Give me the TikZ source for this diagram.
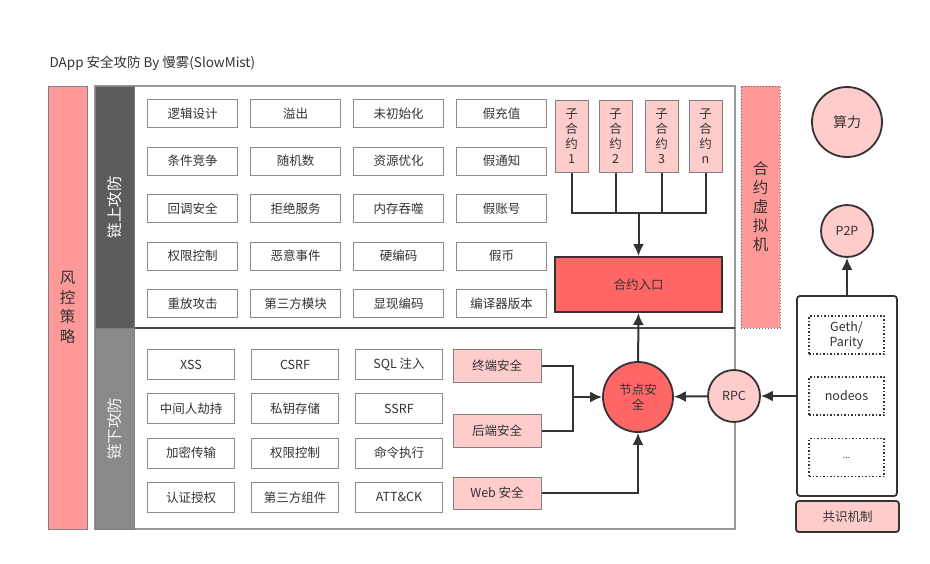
\documentclass[tikz,border=0pt]{standalone}
\usepackage{fontspec}
\setmainfont{Noto Sans CJK SC}
\usepackage{xcolor}
\usetikzlibrary{shapes,arrows.meta,positioning,backgrounds}
\definecolor{lightpink}{HTML}{FFCCCC}
\definecolor{salmon}{HTML}{FF9999}
\definecolor{hotred}{HTML}{FF6666}
\definecolor{darkpanel}{HTML}{5C5C5C}
\definecolor{greypanel}{HTML}{8A8A8A}
\definecolor{edgegrey}{HTML}{8C8C8C}
\definecolor{ink}{HTML}{333333}
\tikzstyle{atk} = [rectangle, draw=edgegrey, line width=1pt, fill=white, text=ink, minimum width=90pt, minimum height=28pt, inner sep=0pt, font=\fontsize{12.5}{14}\selectfont]
\tikzstyle{offatk} = [atk, minimum width=87pt, minimum height=30pt]
\tikzstyle{pinkbox} = [atk, draw=gray, fill=lightpink, minimum width=88pt, minimum height=33pt]
\tikzstyle{subc} = [rectangle, draw=gray, line width=1pt, fill=lightpink, text=ink, minimum width=33pt, minimum height=72pt, inner sep=0pt, align=center, font=\fontsize{12.5}{15}\selectfont]
\tikzstyle{band} = [rectangle, draw=gray, line width=1pt, inner sep=0pt, text=white, font=\fontsize{15.5}{17}\selectfont]
\tikzstyle{hub} = [circle, draw=ink, line width=1.8pt, fill=hotred, text=ink, inner sep=0pt, align=center, font=\fontsize{12.5}{15}\selectfont]
\tikzstyle{bubble} = [circle, draw=ink, line width=1.8pt, fill=lightpink, text=ink, inner sep=0pt, font=\fontsize{12.5}{15}\selectfont]
\tikzstyle{dotbox} = [rectangle, draw=ink, dotted, line width=1.5pt, text=ink, minimum width=75pt, minimum height=38pt, inner sep=0pt, align=center, font=\fontsize{12.5}{15}\selectfont]
\tikzstyle{tedge}  = [draw=ink, line width=2pt, -{Latex[length=12pt,width=11pt]}]
\tikzstyle{wire}  = [draw=ink, line width=2pt]

\begin{document}
\begin{tikzpicture}[x=1pt, y=-1pt]
\useasboundingbox (0,0) rectangle (930,563);

% title ==================================
\node[anchor=west, text=ink, font=\fontsize{13.5}{16}\selectfont] (title) at (46,63) {DApp 安全攻防 By 慢雾(SlowMist)};

% side bars ==============================
\node[band, fill=salmon, text=ink, minimum width=39pt, minimum height=443pt, align=center, font=\fontsize{15.5}{19.5}\selectfont] (risk) at (67.5,307.5) {风\\控\\策\\略};
\draw[gray!80, line width=1.5pt] (95,86) rectangle (735,529);
\draw[ink!90, line width=1.5pt] (95,328) -- (735,328);
\node[band, fill=darkpanel, rotate=90, minimum width=242pt, minimum height=39pt] (onchain) at (114.5,207) {链上攻防};
\node[band, fill=greypanel, text=white!92!gray, rotate=90, minimum width=201pt, minimum height=39pt] (offchain) at (114.5,428.5) {链下攻防};

% on-chain attacks =======================
\node[atk, anchor=north west] (logic) at (147,99) {逻辑设计};
\node[atk, right=12pt of logic] (overflow) {溢出};
\node[atk, right=12pt of overflow] (uninit) {未初始化};
\node[atk, right=12pt of uninit] (fakecharge) {假充值};
\node[atk, below=18.5pt of logic] (race) {条件竞争};
\node[atk, right=12pt of race] (rand) {随机数};
\node[atk, right=12pt of rand] (resopt) {资源优化};
\node[atk, right=12pt of resopt] (fakenotify) {假通知};
\node[atk, below=18.5pt of race] (callback) {回调安全};
\node[atk, right=12pt of callback] (dos) {拒绝服务};
\node[atk, right=12pt of dos] (memeat) {内存吞噬};
\node[atk, right=12pt of memeat] (fakeacct) {假账号};
\node[atk, below=18.5pt of callback] (perm) {权限控制};
\node[atk, right=12pt of perm] (evilevent) {恶意事件};
\node[atk, right=12pt of evilevent] (hardcode) {硬编码};
\node[atk, right=12pt of hardcode] (fakecoin) {假币};
\node[atk, below=18.5pt of perm] (replay) {重放攻击};
\node[atk, right=12pt of replay] (thirdmod) {第三方模块};
\node[atk, right=12pt of thirdmod] (explicit) {显现编码};
\node[atk, right=12pt of explicit] (compiler) {编译器版本};

% off-chain attacks ======================
\node[offatk, anchor=north west] (xss) at (147,349) {XSS};
\node[offatk, right=16pt of xss] (csrf) {CSRF};
\node[offatk, right=16pt of csrf] (sqli) {SQL 注入};
\node[offatk, below=13.3pt of xss] (mitm) {中间人劫持};
\node[offatk, right=16pt of mitm] (keystore) {私钥存储};
\node[offatk, right=16pt of keystore] (ssrf) {SSRF};
\node[offatk, below=13.3pt of mitm] (crypt) {加密传输};
\node[offatk, right=16pt of crypt] (acl) {权限控制};
\node[offatk, right=16pt of acl] (cmdexec) {命令执行};
\node[offatk, below=13.3pt of crypt] (auth) {认证授权};
\node[offatk, right=16pt of auth] (thirdcomp) {第三方组件};
\node[offatk, right=16pt of thirdcomp] (attck) {ATT\&CK};

% contract side ==========================
\node[subc] (sub1) at (571.5,136) {子\\合\\约\\1};
\node[subc] (sub2) at (615.5,136) {子\\合\\约\\2};
\node[subc] (sub3) at (661.5,136) {子\\合\\约\\3};
\node[subc] (subn) at (705.5,136) {子\\合\\约\\n};
\node[rectangle, draw=ink, line width=2pt, fill=hotred, text=ink, minimum width=167pt, minimum height=55pt, font=\fontsize{12.5}{15}\selectfont] (entry) at (638.5,284.5) {合约入口};
\coordinate (merge) at (638.5,213);
\node[rectangle, draw=salmon!55!black, dotted, line width=1pt, fill=salmon, text=ink, minimum width=39pt, minimum height=242pt, align=center, font=\fontsize{15.5}{19}\selectfont] (evm) at (760.5,207) {合\\约\\虚\\拟\\机};

% node security ==========================
\node[pinkbox] (term) at (497,366) {终端安全};
\node[pinkbox] (back) at (497,430.5) {后端安全};
\node[pinkbox, minimum height=32pt] (web) at (497,493) {Web 安全};
\node[hub, minimum size=70pt] (nodesec) at (638,397) {节点安\\全};
\coordinate (join) at (573,397);
\node[bubble, minimum size=52pt] (rpc) at (734,396) {RPC};

% consensus ==============================
\node[bubble, minimum size=70pt, font=\fontsize{14}{16}\selectfont] (power) at (847,122) {算力};
\node[bubble, minimum size=52pt] (p2p) at (847,231) {P2P};
\node[rectangle, rounded corners=3pt, draw=ink, line width=1.8pt, minimum width=100pt, minimum height=200pt] (engine) at (847,396) {};
\node[dotbox] (geth) at (846.5,335) {Geth/\\Parity};
\node[dotbox] (nodeos) at (846.5,396) {nodeos};
\node[dotbox] (etc) at (846.5,457.5) {\fontsize{9}{10}\selectfont ...};
\node[rectangle, rounded corners=3pt, draw=ink, line width=1.8pt, fill=lightpink, text=ink, minimum width=103pt, minimum height=31pt, font=\fontsize{12.5}{15}\selectfont] (consensus) at (847.5,516.5) {共识机制};

% edges ==================================
\path[wire] (sub1.south) |- (merge);
\path[wire] (subn.south) |- (merge);
\path[wire] (sub2.south) -- (sub2.south |- merge);
\path[wire] (sub3.south) -- (sub3.south |- merge);
\path[tedge] (merge) -- (entry);
\path[tedge] (nodesec) -- (entry);
\path[wire] (term.east) -| (join);
\path[wire] (back.east) -| (join);
\path[tedge] (join) -- (nodesec);
\path[tedge] (web.east) -| (nodesec.south);
\path[tedge] (rpc) -- (nodesec);
\path[tedge] (engine.west) -- (rpc);
\path[tedge] (engine) -- (p2p);

\end{tikzpicture}
\end{document}
